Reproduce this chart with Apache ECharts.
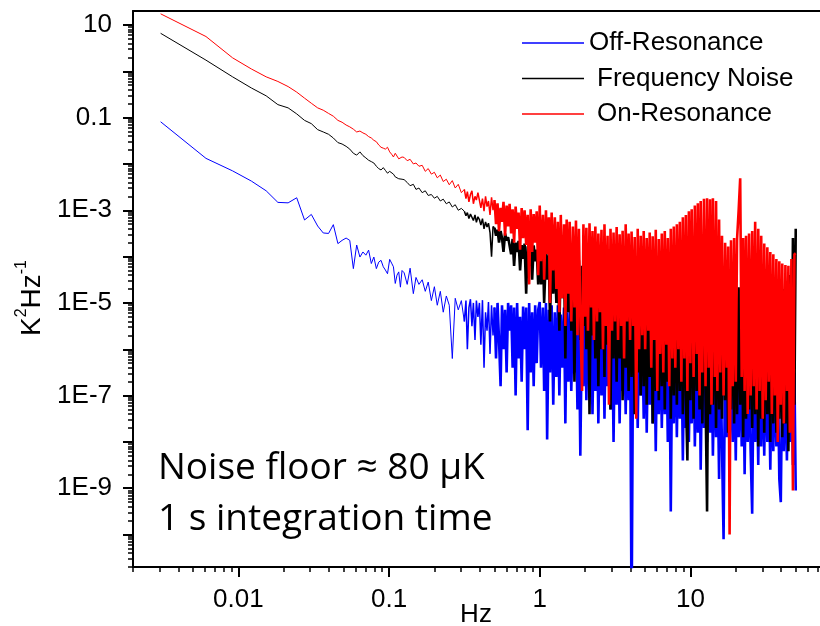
<!DOCTYPE html>
<html>
<head>
<meta charset="utf-8">
<script src="https://cdn.jsdelivr.net/npm/echarts@6/dist/echarts.min.js"></script>
<style>
html, body { margin: 0; padding: 0; background: #fff; }
#main { width: 820px; height: 626px; }
</style>
</head>
<body>
<div id="main"></div>
<script>
// frequency bins in Hz (first 40 are the raw FFT bins, then thinned out)
var freqLow = [0.00305, 0.0061, 0.00916, 0.0122, 0.0153, 0.0183, 0.0214, 0.0244, 0.0275, 0.0305,
    0.0336, 0.0366, 0.0397, 0.0427, 0.0458, 0.0488, 0.0519, 0.0549, 0.058, 0.061,
    0.0641, 0.0671, 0.0702, 0.0732, 0.0763, 0.0793, 0.0824, 0.0854, 0.0885, 0.0916,
    0.0946, 0.0977, 0.101, 0.104, 0.107, 0.11, 0.113, 0.116, 0.119, 0.122];
var freqMid = [0.126, 0.132, 0.138, 0.145, 0.151, 0.158, 0.166, 0.174, 0.182, 0.191,
    0.200, 0.209, 0.219, 0.229, 0.240, 0.251, 0.263, 0.275, 0.288, 0.302];
var freqHigh = [0.316, 0.324, 0.331, 0.339, 0.347, 0.355, 0.363, 0.372, 0.380, 0.389,
    0.398, 0.407, 0.417, 0.427, 0.437, 0.447, 0.457, 0.468, 0.479, 0.490,
    0.501, 0.513, 0.525, 0.537, 0.550, 0.562, 0.575, 0.589, 0.603, 0.617,
    0.631, 0.646, 0.661, 0.676, 0.692, 0.708, 0.724, 0.741, 0.759, 0.776,
    0.794, 0.813, 0.832, 0.851, 0.871, 0.891, 0.912, 0.933, 0.955, 0.977,
    1.00, 1.02, 1.05, 1.07, 1.10, 1.12, 1.15, 1.17, 1.20, 1.23,
    1.26, 1.29, 1.32, 1.35, 1.38, 1.41, 1.45, 1.48, 1.51, 1.55,
    1.58, 1.62, 1.66, 1.70, 1.74, 1.78, 1.82, 1.86, 1.91, 1.95,
    2.00, 2.04, 2.09, 2.14, 2.19, 2.24, 2.29, 2.34, 2.40, 2.45,
    2.51, 2.57, 2.63, 2.69, 2.75, 2.82, 2.88, 2.95, 3.02, 3.09,
    3.16, 3.24, 3.31, 3.39, 3.47, 3.55, 3.63, 3.72, 3.80, 3.89,
    3.98, 4.07, 4.17, 4.27, 4.37, 4.47, 4.57, 4.68, 4.79, 4.90,
    5.01, 5.13, 5.25, 5.37, 5.50, 5.62, 5.75, 5.89, 6.03, 6.17,
    6.31, 6.46, 6.61, 6.76, 6.92, 7.08, 7.24, 7.41, 7.59, 7.76,
    7.94, 8.13, 8.32, 8.51, 8.71, 8.91, 9.12, 9.33, 9.55, 9.77,
    10.0, 10.2, 10.5, 10.7, 11.0, 11.2, 11.5, 11.7, 12.0, 12.3,
    12.6, 12.9, 13.2, 13.5, 13.8, 14.1, 14.5, 14.8, 15.1, 15.5,
    15.8, 16.2, 16.6, 17.0, 17.4, 17.8, 18.2, 18.6, 19.1, 19.5,
    20.0, 20.4, 20.9, 21.4, 21.9, 22.4, 22.9, 23.4, 24.0, 24.5,
    25.1, 25.7, 26.3, 26.9, 27.5, 28.2, 28.8, 29.5, 30.2, 30.9,
    31.6, 32.4, 33.1, 33.9, 34.7, 35.5, 36.3, 37.2, 38.0, 38.9,
    39.8, 40.7, 41.7, 42.7, 43.7, 44.7, 45.7, 46.8, 47.9, 49.0,
    50.0];

// log10 of the noise power density in K^2/Hz
var offLow = [-1.09, -1.88, -2.15, -2.37, -2.58, -2.83, -2.84, -2.73, -3.21, -3.09,
    -3.34, -3.49, -3.50, -3.31, -3.72, -3.65, -3.60, -3.65, -4.26, -3.75,
    -4.01, -3.90, -3.97, -3.86, -4.15, -4.01, -4.26, -4.12, -4.08, -4.22,
    -4.29, -4.37, -4.06, -4.14, -4.22, -4.58, -4.40, -4.33, -4.66, -4.30];
var offMid = [-4.35, -4.60, -4.25, -4.80, -4.45, -4.60, -4.50, -4.75, -4.55, -4.95,
    -4.65, -5.05, -4.75, -5.20, -4.85, -5.05, -6.20, -4.90, -5.15, -4.95];
var offHigh = [-5.40, -4.95, -6.00, -5.10, -4.92, -5.50, -5.00, -5.80, -4.95, -5.30,
    -5.00, -5.90, -4.94, -6.40, -5.20, -5.60, -4.98, -6.10, -5.05, -5.70,
    -5.10, -6.20, -5.00, -5.80, -6.80, -5.05, -6.00, -5.15, -6.50, -5.00,
    -5.60, -5.05, -6.40, -5.10, -7.00, -5.00, -6.20, -5.30, -6.70, -5.08,
    -6.00, -5.10, -7.75, -5.00, -6.50, -5.20, -6.80, -5.05, -6.30, -5.15,
    -4.98, -6.40, -5.10, -6.90, -5.00, -7.95, -5.15, -6.50, -5.05, -7.20,
    -5.20, -6.60, -5.05, -7.00, -5.25, -6.40, -5.10, -7.60, -5.20, -6.70,
    -5.15, -6.90, -5.30, -6.50, -5.20, -7.30, -5.25, -8.30, -5.30, -6.80,
    -5.25, -7.10, -5.35, -6.70, -5.28, -7.40, -5.40, -6.90, -5.32, -7.60,
    -5.38, -7.00, -5.30, -7.50, -5.45, -6.80, -5.40, -7.30, -5.35, -8.00,
    -5.45, -7.20, -5.40, -7.60, -5.50, -6.90, -5.42, -7.40, -5.55, -7.10,
    -5.48, -12.0, -5.52, -7.30, -5.60, -7.70, -5.50, -7.00, -5.58, -7.50,
    -5.55, -7.80, -5.62, -7.20, -5.58, -7.60, -5.66, -8.20, -5.60, -7.40,
    -5.65, -7.70, -5.70, -7.40, -5.62, -8.00, -5.75, -9.50, -5.68, -7.60,
    -5.72, -7.90, -5.80, -7.50, -5.74, -8.40, -5.82, -7.70, -5.78, -8.00,
    -5.85, -7.60, -5.80, -8.10, -5.90, -7.80, -5.86, -8.60, -5.92, -7.70,
    -5.95, -8.00, -5.90, -7.80, -6.00, -8.30, -5.96, -7.90, -6.05, -8.80,
    -6.00, -8.10, -10.1, -6.05, -7.90, -6.10, -8.20, -6.08, -8.00, -6.15,
    -8.40, -6.10, -7.90, -6.20, -8.10, -6.15, -8.70, -6.22, -8.00, -6.18,
    -8.20, -9.55, -6.25, -8.00, -6.30, -8.50, -6.26, -8.10, -6.35, -8.30,
    -6.30, -8.00, -6.38, -8.60, -6.34, -8.20, -6.40, -8.10, -6.36, -8.80,
    -9.30, -6.42, -8.20, -6.45, -8.40, -6.40, -8.00, -6.48, -8.50, -6.50,
    -9.05];

var fnLow = [0.82, 0.24, -0.12, -0.36, -0.53, -0.72, -0.79, -0.92, -1.06, -1.13,
    -1.26, -1.31, -1.36, -1.44, -1.54, -1.57, -1.62, -1.68, -1.77, -1.81,
    -1.74, -1.82, -1.87, -1.92, -1.95, -1.98, -2.05, -2.10, -2.13, -2.08,
    -2.14, -2.20, -2.16, -2.13, -2.22, -2.28, -2.24, -2.32, -2.29, -2.33];
var fnMid = [-2.34, -2.40, -2.47, -2.44, -2.55, -2.52, -2.62, -2.58, -2.68, -2.66,
    -2.74, -2.70, -2.80, -2.76, -2.86, -2.82, -2.93, -2.88, -3.00, -2.96];
var fnHigh = [-3.02, -3.12, -3.05, -3.18, -3.08, -3.04, -3.22, -3.10, -3.26, -3.14,
    -3.20, -3.32, -3.18, -3.40, -3.25, -3.36, -3.28, -3.48, -4.00, -3.35,
    -3.38, -3.55, -3.42, -3.70, -3.45, -3.60, -3.90, -3.50, -3.65, -3.58,
    -3.60, -3.95, -3.62, -4.20, -3.70, -3.90, -3.66, -4.30, -3.75, -4.05,
    -3.72, -4.80, -3.78, -4.20, -3.80, -4.50, -3.76, -4.10, -3.85, -4.60,
    -3.85, -4.60, -3.88, -5.00, -3.92, -4.50, -3.95, -5.40, -3.90, -4.80,
    -4.00, -5.00, -4.05, -5.60, -3.98, -4.90, -4.10, -6.20, -4.02, -5.20,
    -4.10, -5.60, -4.05, -6.70, -4.15, -5.30, -4.08, -5.80, -4.20, -5.50,
    -4.12, -6.00, -4.25, -7.40, -4.18, -5.70, -4.30, -6.20, -4.22, -6.80,
    -4.28, -6.00, -4.20, -6.60, -4.35, -5.90, -4.25, -7.30, -4.32, -6.20,
    -4.30, -6.70, -4.38, -6.20, -4.28, -7.10, -4.40, -6.40, -4.34, -6.90,
    -4.36, -6.60, -4.42, -7.40, -4.30, -6.50, -4.45, -7.00, -4.38, -6.80,
    -4.40, -7.20, -4.46, -6.60, -4.38, -7.60, -4.50, -6.90, -4.42, -7.10,
    -4.45, -6.80, -4.40, -7.30, -4.52, -6.70, -4.48, -7.50, -4.44, -7.00,
    -4.50, -7.20, -4.46, -6.90, -4.55, -7.40, -4.48, -7.00, -8.40, -4.50,
    -7.10, -4.52, -7.50, -4.48, -6.90, -4.56, -7.30, -4.50, -7.60, -4.54,
    -7.00, -9.50, -4.55, -7.40, -4.60, -7.20, -4.52, -7.70, -4.58, -7.30,
    -4.60, -7.50, -4.55, -7.10, -4.64, -7.80, -4.58, -7.30, -4.62, -7.60,
    -4.60, -7.40, -4.66, -7.20, -4.60, -7.90, -4.64, -7.50, -4.68, -7.30,
    -4.62, -7.70, -4.70, -7.40, -4.65, -8.10, -4.70, -7.50, -4.66, -7.80,
    -4.72, -7.40, -4.68, -8.00, -4.74, -7.60, -4.70, -7.80, -4.76, -7.50,
    -4.72, -7.90, -4.70, -7.60, -4.74, -8.20, -4.40, -7.70, -3.60, -7.20,
    -3.40];

var onLow = [1.24, 0.75, 0.29, 0.05, -0.12, -0.22, -0.33, -0.45, -0.58, -0.69,
    -0.79, -0.84, -0.91, -0.97, -1.06, -1.10, -1.16, -1.20, -1.25, -1.31,
    -1.29, -1.33, -1.36, -1.41, -1.44, -1.49, -1.52, -1.59, -1.64, -1.66,
    -1.68, -1.64, -1.74, -1.79, -1.85, -1.77, -1.80, -1.89, -1.92, -1.85];
var onMid = [-1.86, -1.93, -1.90, -2.00, -1.98, -2.05, -2.03, -2.16, -2.10, -2.22,
    -2.18, -2.30, -2.24, -2.38, -2.33, -2.45, -2.36, -2.52, -2.44, -2.62];
var onHigh = [-2.55, -2.75, -2.60, -2.82, -2.66, -2.58, -2.86, -2.70, -2.78, -2.62,
    -2.62, -2.95, -2.75, -3.02, -2.70, -2.92, -2.80, -3.10, -2.72, -3.00,
    -2.78, -3.30, -2.85, -3.45, -2.95, -3.25, -2.82, -3.55, -2.90, -3.35,
    -2.86, -3.50, -2.98, -3.70, -2.92, -3.40, -3.05, -3.85, -2.95, -3.60,
    -3.00, -3.75, -3.10, -4.60, -2.98, -3.90, -3.08, -3.70, -3.02, -4.40,
    -2.90, -4.10, -3.10, -4.50, -3.00, -3.95, -3.15, -5.00, -3.05, -4.30,
    -3.15, -4.70, -3.25, -5.20, -3.10, -4.90, -3.30, -5.50, -3.20, -4.80,
    -3.25, -5.40, -3.35, -5.10, -3.22, -5.70, -3.40, -5.30, -6.90, -3.30,
    -5.30, -3.38, -5.60, -3.28, -5.10, -3.45, -5.80, -3.35, -5.40, -3.50,
    -5.20, -3.42, -6.00, -3.30, -5.50, -3.55, -7.20, -3.40, -5.60, -3.48,
    -5.40, -3.36, -5.80, -3.52, -5.50, -3.44, -6.20, -3.30, -5.40, -3.50,
    -5.80, -3.46, -5.50, -3.58, -7.50, -3.40, -6.00, -3.55, -5.70, -3.45,
    -6.00, -3.60, -5.60, -3.48, -6.40, -3.56, -5.80, -3.42, -6.90, -3.62,
    -6.10, -3.50, -6.50, -3.45, -5.90, -3.60, -6.80, -3.40, -6.20, -3.35,
    -6.40, -3.30, -6.00, -3.25, -6.70, -3.15, -6.20, -3.10, -6.90, -3.02,
    -6.30, -2.98, -6.60, -2.90, -6.10, -2.85, -7.00, -2.80, -6.50, -2.75,
    -6.80, -2.74, -6.40, -2.76, -7.20, -2.74, -6.60, -2.80, -6.90, -3.20,
    -6.50, -3.55, -7.00, -3.70, -6.40, -3.78, -10.0, -3.65, -6.80, -3.60,
    -6.70, -3.62, -3.00, -2.31, -6.60, -3.60, -6.90, -3.55, -7.40, -3.50,
    -7.00, -3.45, -6.80, -3.25, -7.30, -3.40, -6.90, -3.55, -7.50, -3.72,
    -7.10, -3.80, -6.70, -3.90, -7.40, -3.95, -7.00, -4.05, -8.00, -4.10,
    -7.20, -4.15, -7.60, -4.18, -6.90, -4.20, -7.80, -4.05, -9.05, -3.95,
    -3.93];

// tick labels (powers of ten)
var xTickPow = [-2, -1, 0, 1];
var xTickText = ['0.01', '0.1', '1', '10'];
var yTickPow = [1, -1, -3, -5, -7, -9];
var yTickText = ['10', '0.1', '1E-3', '1E-5', '1E-7', '1E-9'];

var xMin = -2.699, xMax = 1.86;   // 0.002 Hz .. ~72 Hz
var yMin = -10.7, yMax = 1.301;   // 2E-11 .. 20

var freq = freqLow.concat(freqMid, freqHigh);
// the spectrum gets denser with frequency: heavier strokes from 0.3 Hz and 0.5 Hz on
var midFrom = freqLow.length + freqMid.length;
var denseFrom = midFrom + 20;

function toPoints(vals) {
    return freq.map(function (f, i) { return [Math.log10(f), vals[i]]; });
}

function decades(lo, hi) {
    var out = [];
    for (var d = Math.ceil(lo); d <= Math.floor(hi); d++) out.push(d);
    return out;
}
function minors(lo, hi) {
    var out = [];
    for (var d = Math.floor(lo); d <= Math.ceil(hi); d++) {
        for (var m = 2; m <= 9; m++) {
            var v = d + Math.log10(m);
            if (v > lo && v < hi) out.push(v);
        }
    }
    return out;
}
function labelOf(pows, texts) {
    return function (v) {
        var i = pows.indexOf(Math.round(v));
        return i < 0 ? '' : texts[i];
    };
}

function spectrum(name, color, vals) {
    var pts = toPoints(vals);
    function part(from, to, width) {
        return {
            name: name, type: 'line', symbol: 'none', data: pts.slice(from, to),
            lineStyle: { color: color, width: width, join: 'bevel' },
            itemStyle: { color: color }, emphasis: { disabled: true }
        };
    }
    return [
        part(0, midFrom + 1, 1),
        part(midFrom, denseFrom + 1, 1.5),
        part(denseFrom, pts.length, 2.6)
    ];
}

var myChart = echarts.init(document.getElementById('main'));

var axisColor = '#000';
var labelFont = 'Liberation Sans';
var option = {
    animation: false,
    grid: { left: 133, right: 0, top: 11, bottom: 59, containLabel: false, outerBoundsMode: 'none' },
    legend: {
        orient: 'vertical',
        left: 522,
        top: 30,
        padding: 0,
        icon: 'rect',
        itemWidth: 62,
        itemHeight: 1.5,
        itemGap: 9.5,
        textStyle: { fontSize: 26, color: '#000', fontFamily: labelFont },
        data: [
            { name: 'Off-Resonance' },
            { name: 'Frequency Noise', textStyle: { padding: [0, 0, 0, 8] } },
            { name: 'On-Resonance', textStyle: { padding: [0, 0, 0, 8] } }
        ]
    },
    xAxis: [
        {
            type: 'value', min: xMin, max: xMax, position: 'bottom',
            axisLine: { onZero: false, lineStyle: { color: axisColor, width: 2 } },
            axisTick: { customValues: decades(xMin, xMax), length: 10, lineStyle: { color: axisColor, width: 2 } },
            axisLabel: { customValues: xTickPow, formatter: labelOf(xTickPow, xTickText), margin: 20,
                fontSize: 26, color: '#000', fontFamily: labelFont },
            splitLine: { show: false }
        },
        {
            type: 'value', min: xMin, max: xMax, position: 'bottom',
            axisLine: { show: false, onZero: false },
            axisTick: { customValues: minors(xMin, xMax), length: 5, lineStyle: { color: axisColor, width: 1.5 } },
            axisLabel: { show: false },
            splitLine: { show: false }
        },
        {
            type: 'value', min: xMin, max: xMax, position: 'top',
            axisLine: { onZero: false, lineStyle: { color: axisColor, width: 2 } },
            axisTick: { show: false },
            axisLabel: { show: false },
            splitLine: { show: false }
        }
    ],
    yAxis: [
        {
            type: 'value', min: yMin, max: yMax, position: 'left',
            axisLine: { onZero: false, lineStyle: { color: axisColor, width: 2 } },
            axisTick: { customValues: decades(yMin, yMax), length: 10, lineStyle: { color: axisColor, width: 2 } },
            axisLabel: { customValues: yTickPow, formatter: labelOf(yTickPow, yTickText), margin: 21,
                fontSize: 26, color: '#000', fontFamily: labelFont },
            splitLine: { show: false }
        },
        {
            type: 'value', min: yMin, max: yMax, position: 'left',
            axisLine: { show: false, onZero: false },
            axisTick: { customValues: minors(yMin, yMax), length: 5, lineStyle: { color: axisColor, width: 1.5 } },
            axisLabel: { show: false },
            splitLine: { show: false }
        }
    ],
    graphic: [
        {
            type: 'text', x: 32, y: 298, rotation: Math.PI / 2,
            style: {
                text: '{m|K}{s|2}{m|Hz}{s|-1}',
                align: 'center', verticalAlign: 'middle',
                rich: {
                    m: { fontSize: 28, lineHeight: 36, fontFamily: labelFont, fill: '#000' },
                    s: { fontSize: 16, lineHeight: 14, verticalAlign: 'top', fontFamily: labelFont, fill: '#000' }
                }
            }
        },
        {
            type: 'text', x: 476, y: 602,
            style: { text: 'Hz', font: '26px "Liberation Sans"', fill: '#000', align: 'center', verticalAlign: 'top' }
        },
        {
            type: 'text', x: 158, y: 468,
            style: { text: 'Noise floor \u2248 80 \u03bcK', font: '37px "Open Sans"', fill: '#000', verticalAlign: 'middle' }
        },
        {
            type: 'text', x: 158, y: 519,
            style: { text: '1 s integration time', font: '37px "Open Sans"', fill: '#000', verticalAlign: 'middle' }
        }
    ],
    series: [].concat(
        spectrum('Off-Resonance', '#0000ff', offLow.concat(offMid, offHigh)),
        spectrum('Frequency Noise', '#000000', fnLow.concat(fnMid, fnHigh)),
        spectrum('On-Resonance', '#ff0000', onLow.concat(onMid, onHigh))
    )
};

myChart.setOption(option);

window.onresize = function () {
    myChart.resize();
};
</script>
</body>
</html>
